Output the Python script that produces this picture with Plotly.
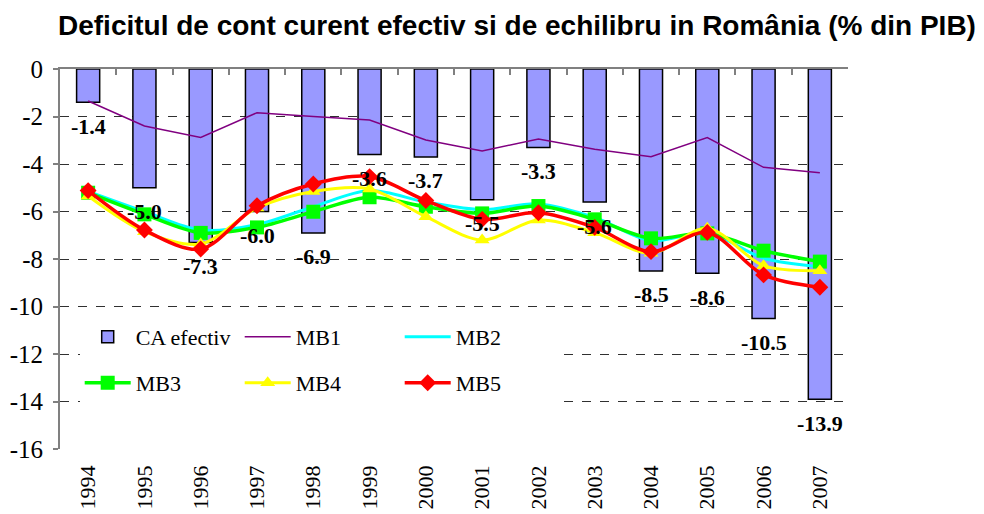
import plotly.graph_objects as go

years = [1994, 1995, 1996, 1997, 1998, 1999, 2000, 2001, 2002, 2003, 2004, 2005, 2006, 2007]
year_labels = [str(y) for y in years]
ca_efectiv = [-1.4, -5.0, -7.3, -6.0, -6.9, -3.6, -3.7, -5.5, -3.3, -5.6, -8.5, -8.6, -10.5, -13.9]
mb1 = [-1.35, -2.40, -2.88, -1.84, -2.00, -2.15, -2.99, -3.45, -2.95, -3.38, -3.69, -2.89, -4.14, -4.37]
mb2 = [-5.15, -6.00, -6.78, -6.55, -5.80, -5.12, -5.60, -5.92, -5.68, -6.25, -7.23, -6.90, -7.97, -8.32]
mb3 = [-5.21, -6.12, -6.90, -6.67, -6.01, -5.40, -5.80, -6.08, -5.77, -6.33, -7.13, -6.92, -7.65, -8.11]
mb4 = [-5.35, -6.85, -7.37, -5.85, -5.16, -5.05, -6.22, -7.20, -6.36, -6.89, -7.76, -6.71, -8.28, -8.49]
mb5 = [-5.12, -6.78, -7.58, -5.76, -4.84, -4.53, -5.54, -6.33, -6.05, -6.67, -7.69, -6.88, -8.67, -9.19]
y_ticks = [0, -2, -4, -6, -8, -10, -12, -14, -16]
y_tick_labels = ["0", "-2", "-4", "-6", "-8", "-10", "-12", "-14", "-16"]
title_text = "Deficitul de cont curent efectiv si de echilibru in România (% din PIB)"

SERIF = "Liberation Serif, Times New Roman, serif"

fig = go.Figure()
fig.add_trace(go.Bar(
    x=years, y=ca_efectiv, name="CA efectiv", width=0.41,
    marker=dict(color="#9999FF", line=dict(color="black", width=1.5)),
    legend="legend"))
fig.add_trace(go.Scatter(
    x=years, y=mb1, name="MB1", mode="lines",
    line=dict(color="#800080", width=1.5), legend="legend"))
fig.add_trace(go.Scatter(
    x=years, y=mb2, name="MB2", mode="lines",
    line=dict(color="#00FFFF", width=3, shape="spline", smoothing=0.9), legend="legend"))
fig.add_trace(go.Scatter(
    x=years, y=mb3, name="MB3", mode="lines+markers",
    line=dict(color="#00FF00", width=3.5, shape="spline", smoothing=0.9),
    marker=dict(symbol="square", size=14, color="#00FF00"), legend="legend2"))
fig.add_trace(go.Scatter(
    x=years, y=mb4, name="MB4", mode="lines+markers",
    line=dict(color="#FFFF00", width=3, shape="spline", smoothing=0.9),
    marker=dict(symbol="triangle-up", size=13, color="#FFFF00"), legend="legend2"))
fig.add_trace(go.Scatter(
    x=years, y=mb5, name="MB5", mode="lines+markers",
    line=dict(color="#FF0000", width=3.5, shape="spline", smoothing=0.9),
    marker=dict(symbol="diamond", size=13, color="#FF0000"), legend="legend2"))
# invisible helper trace so the top (category-boundary) axis gets drawn
fig.add_trace(go.Scatter(
    x=years, y=ca_efectiv, xaxis="x2", mode="markers",
    marker=dict(opacity=0), showlegend=False, hoverinfo="skip"))

annotations = []
for yr, v in zip(years, ca_efectiv):
    annotations.append(dict(
        x=yr, y=v, xref="x", yref="y", text=f"{v:.1f}", showarrow=False,
        yshift=-24, font=dict(family=SERIF, size=22, color="black", weight="bold")))

boundaries = [years[0] - 0.5 + i for i in range(len(years) + 1)]

legend_common = dict(
    orientation="h", bgcolor="white", borderwidth=0,
    font=dict(family=SERIF, size=22, color="black"),
    itemwidth=46, entrywidth=99, entrywidthmode="pixels",
    xanchor="left", yanchor="top", traceorder="normal")

fig.update_layout(
    width=976, height=506,
    margin=dict(l=52, r=136, t=61, b=65, autoexpand=False),
    paper_bgcolor="white", plot_bgcolor="white",
    title=dict(text=title_text, x=0.5215, xref="container", xanchor="center",
               y=0.966, yref="container", yanchor="middle",
               font=dict(family="Liberation Sans, Arial, sans-serif",
                         size=28, color="black", weight="bold")),
    barmode="overlay",
    xaxis=dict(range=[years[0] - 0.5, years[-1] + 0.5], side="bottom",
               tickvals=years, ticktext=year_labels, tickangle=-90,
               ticks="", showline=False, showgrid=False, zeroline=False,
               ticklabelstandoff=11, automargin=False,
               tickfont=dict(family=SERIF, size=22, color="black")),
    xaxis2=dict(range=[years[0] - 0.5, years[-1] + 0.5], overlaying="x", side="top",
                anchor="y", showline=True, linecolor="#808080", linewidth=2,
                tickvals=boundaries, ticks="inside", ticklen=6, tickwidth=1.5,
                tickcolor="#808080", showticklabels=False, showgrid=False,
                zeroline=False, automargin=False),
    yaxis=dict(range=[-16, 0], tickvals=y_ticks, ticktext=y_tick_labels,
               showline=True, linecolor="#808080", linewidth=2,
               ticks="outside", ticklen=5, tickcolor="#808080", tickwidth=1.5,
               showgrid=True, gridcolor="#303030", gridwidth=1, griddash="dash",
               zeroline=False, ticklabelstandoff=5, automargin=False,
               tickfont=dict(family=SERIF, size=25, color="black")),
    legend=dict(x=0.025, y=0.350, **legend_common),
    legend2=dict(x=0.025, y=0.229, **legend_common),
    annotations=annotations,
    showlegend=True,
)

fig.write_html("out.html")
